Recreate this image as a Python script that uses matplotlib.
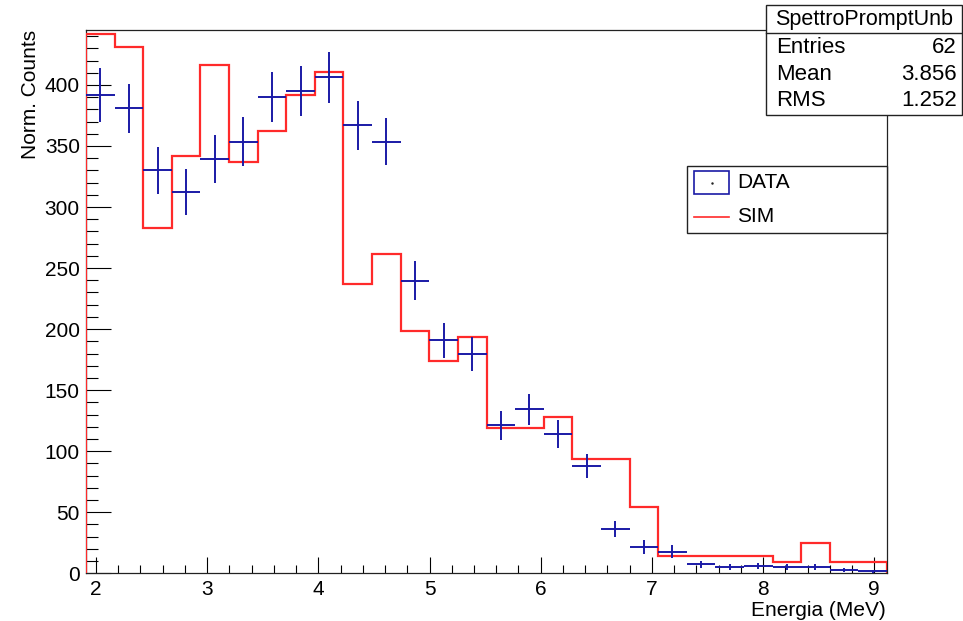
import numpy as np
import matplotlib.pyplot as plt
from matplotlib.patches import Rectangle
from matplotlib.lines import Line2D
from matplotlib.ticker import MultipleLocator

plt.rcParams['font.family'] = ['Liberation Sans', 'DejaVu Sans']

# histogram binning (MeV)
e_lo, e_hi, n_bins = 1.91, 9.115, 28
edges = np.linspace(e_lo, e_hi, n_bins + 1)

# simulated spectrum (step histogram)
sim = [441.5, 430.8, 282.5, 341.8, 416.5, 337.1, 361.9, 391.5, 410.7, 237.2,
       261.9, 198.2, 173.5, 193.3, 118.9, 118.9, 127.9, 93.6, 93.6, 54.6,
       14.2, 14.2, 14.2, 14.2, 9.3, 24.7, 9.3, 9.3]

# measured spectrum with errors
data = [391.8, 380.8, 330.0, 312.2, 339.1, 353.6, 390.4, 395.1, 406.1, 366.8,
        353.6, 239.7, 190.8, 179.8, 121.1, 134.3, 113.9, 87.8, 36.5, 21.4,
        17.8, 7.4, 4.9, 6.0, 4.9, 4.9, 2.4, 1.6]
data_err = [21.9, 20.2, 19.2, 18.7, 19.5, 19.9, 20.5, 20.6, 20.9, 19.9,
            19.4, 15.8, 14.6, 14.1, 11.8, 12.5, 11.3, 9.9, 6.5, 5.5,
            5.2, 3.0, 2.4, 2.6, 2.4, 2.4, 1.7, 1.4]

stat_title = "SpettroPromptUnb"
stat_names = ["Entries", "Mean", "RMS"]
stat_values = ["62", "3.856", "1.252"]

W, H = 963, 621
fig = plt.figure(figsize=(W / 100, H / 100), dpi=100)


def fx(px):
    return px / W


def fy(py):
    return 1 - py / H


ax = fig.add_axes([fx(86), fy(573.3), fx(887) - fx(86), fy(30) - fy(573.3)])

centers = 0.5 * (edges[:-1] + edges[1:])
half = 0.5 * np.diff(edges)

ax.stairs(sim, edges, baseline=0, color='#ff2a2a', lw=1.6, zorder=3)
ax.errorbar(centers, data, xerr=half, yerr=data_err, fmt='none',
            ecolor='#1a1aa6', elinewidth=1.4, capsize=0, zorder=4)

ax.set_xlim(e_lo, e_hi)
ax.set_ylim(0, 445)
ax.xaxis.set_major_locator(MultipleLocator(1))
ax.xaxis.set_minor_locator(MultipleLocator(0.2))
ax.yaxis.set_major_locator(MultipleLocator(50))
ax.yaxis.set_minor_locator(MultipleLocator(10))

ax.tick_params(axis='x', which='major', direction='in', length=11.5, width=0.8, pad=4.5, labelsize=15)
ax.tick_params(axis='x', which='minor', direction='in', length=5.5, width=0.8)
ax.tick_params(axis='y', which='major', direction='in', length=17.8, width=0.8, pad=4.5, labelsize=15)
ax.tick_params(axis='y', which='minor', direction='in', length=8.4, width=0.8)
for s in ax.spines.values():
    s.set_linewidth(0.9)
    s.set_color('#222222')

fig.text(fx(30), fy(30), "Norm. Counts", rotation=90, ha='center', va='top', fontsize=15)
fig.text(fx(886), fy(610), "Energia (MeV)", ha='right', va='center', fontsize=15)

# legend box
fig.patches.append(Rectangle((fx(686.7), fy(233.3)), fx(886.7) - fx(686.7), fy(165.7) - fy(233.3),
                             transform=fig.transFigure, facecolor='white', edgecolor='#222222',
                             lw=1.0, zorder=5))
fig.patches.append(Rectangle((fx(694), fy(194)), fx(729) - fx(694), fy(171) - fy(194),
                             transform=fig.transFigure, facecolor='none', edgecolor='#1a1aa6',
                             lw=1.2, zorder=6))
fig.lines.append(Line2D([fx(711.5)], [fy(182.5)], transform=fig.transFigure, marker='.',
                        markersize=1.5, color='#222222', zorder=6))
fig.lines.append(Line2D([fx(694), fx(729)], [fy(217.3), fy(217.3)], transform=fig.transFigure,
                        color='#ff2a2a', lw=1.2, zorder=6))
fig.text(fx(737), fy(182.5), "DATA", ha='left', va='center', fontsize=15, zorder=7)
fig.text(fx(737), fy(217), "SIM", ha='left', va='center', fontsize=15, zorder=7)

# statistics box
fig.patches.append(Rectangle((fx(766), fy(115.3)), fx(962.3) - fx(766), fy(5.3) - fy(115.3),
                             transform=fig.transFigure, facecolor='white', edgecolor='#222222',
                             lw=1.0, zorder=5))
fig.lines.append(Line2D([fx(766), fx(962.3)], [fy(32.7), fy(32.7)], transform=fig.transFigure,
                        color='#222222', lw=1.0, zorder=6))
fig.text(fx(864.5), fy(19.5), stat_title, ha='center', va='center', fontsize=15.5, zorder=7)
for i, (name, val) in enumerate(zip(stat_names, stat_values)):
    yy = 47.7 + i * 26.5
    fig.text(fx(776), fy(yy), name, ha='left', va='center', fontsize=16, zorder=7)
    fig.text(fx(956.7), fy(yy), val, ha='right', va='center', fontsize=16, zorder=7)

fig.savefig('out.png', dpi=100)
